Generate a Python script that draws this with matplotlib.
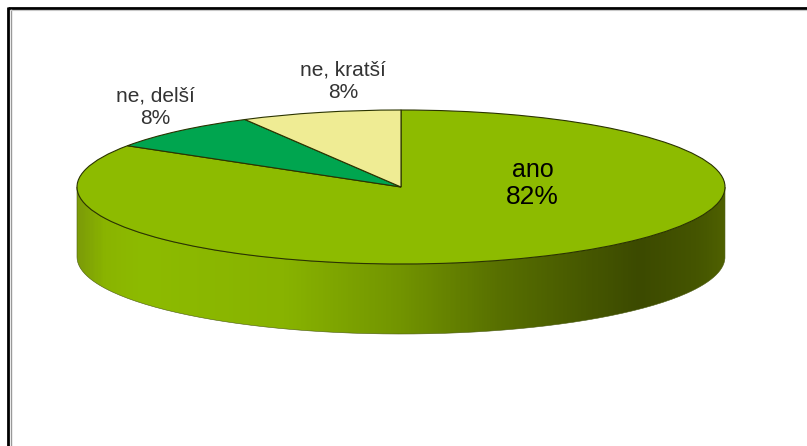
import matplotlib
matplotlib.use("Agg")
import matplotlib.pyplot as plt
import numpy as np
from matplotlib.colors import LinearSegmentedColormap
from matplotlib.patches import PathPatch
from matplotlib.path import Path

plt.rcParams['font.family'] = ['Liberation Sans', 'DejaVu Sans']

categories = ["ano", "ne, delší", "ne, kratší"]
percents = [82, 8, 8]
# printed labels only add up to 98, the slices as drawn take the whole round
slice_shares = [84, 8, 8]
colors = ["#8DBB00", "#00A54F", "#EFEC94"]

# pie geometry in pixels of the picture
W, H = 807, 446
cx, cy, rx, ry, depth = 401, 187, 324, 77, 70


def px(x, y):
    return (x - cx) / rx, (cy - y) / ry


fig = plt.figure(figsize=(W / 100, H / 100), dpi=100)
ax = fig.add_axes([0, 0, 1, 1])

# side of the pie
d = depth / ry
t = np.linspace(np.pi, 2 * np.pi, 200)
xs = np.cos(t)
ys = np.sin(t)
vx = np.r_[xs, xs[::-1], xs[0]]
vy = np.r_[ys, ys[::-1] - d, ys[0]]
side = Path(np.c_[vx, vy])
shade = LinearSegmentedColormap.from_list("side", [
    (0.0, "#7C9C08"), (0.04, "#8AB400"), (0.10, "#8DBB00"), (0.32, "#88B300"),
    (0.50, "#729400"), (0.65, "#587000"), (0.78, "#475900"), (0.87, "#3C4A00"),
    (0.96, "#455500"), (1.0, "#4E6000"),
])
grad = np.linspace(0, 1, 400).reshape(1, -1)
im = ax.imshow(grad, cmap=shade, extent=(-1, 1, -1 - d, 0), aspect="auto", zorder=1)
clip = PathPatch(side, transform=ax.transData, facecolor="none", edgecolor="#4A5A10", lw=0.4, zorder=2)
ax.add_patch(clip)
im.set_clip_path(clip)

# top of the pie, drawn clockwise from twelve o'clock
ax.pie(slice_shares, colors=colors, startangle=90, counterclock=False, radius=1,
       wedgeprops=dict(edgecolor="#2A3300", linewidth=0.8, zorder=3))

ax.set_aspect("auto")
ax.set_xlim(-cx / rx, (W - cx) / rx)
ax.set_ylim((cy - H) / ry, cy / ry)
ax.set_axis_off()

# labels
tx, ty = px(533, 170)
ax.text(tx, ty, categories[0], ha="center", va="center", fontsize=18, color="black", zorder=5)
tx, ty = px(532, 197)
ax.text(tx, ty, f"{percents[0]}%", ha="center", va="center", fontsize=19, color="black", zorder=5)

tx, ty = px(155, 96)
ax.text(tx, ty, categories[1], ha="center", va="center", fontsize=15, color="#333333", zorder=5)
tx, ty = px(155, 119)
ax.text(tx, ty, f"{percents[1]}%", ha="center", va="center", fontsize=15, color="#333333", zorder=5)

tx, ty = px(342.5, 70)
ax.text(tx, ty, categories[2], ha="center", va="center", fontsize=15, color="#333333", zorder=5)
tx, ty = px(343, 93)
ax.text(tx, ty, f"{percents[2]}%", ha="center", va="center", fontsize=15, color="#333333", zorder=5)

# chart frame: black top and left, thin grey inside
fig.add_artist(plt.Line2D([8 / W, 1], [1 - 8 / H, 1 - 8 / H], color="black", lw=2.0, solid_capstyle="butt"))
fig.add_artist(plt.Line2D([8 / W, 8 / W], [0, 1 - 7 / H], color="black", lw=2.0, solid_capstyle="butt"))
fig.add_artist(plt.Line2D([10.5 / W, 10.5 / W], [0, 1 - 9 / H], color="#999999", lw=1.0, solid_capstyle="butt"))
fig.add_artist(plt.Line2D([10 / W, 1], [1 - 9.5 / H, 1 - 9.5 / H], color="#C8C8C8", lw=0.8, solid_capstyle="butt"))

fig.savefig("out.png", dpi=100)
